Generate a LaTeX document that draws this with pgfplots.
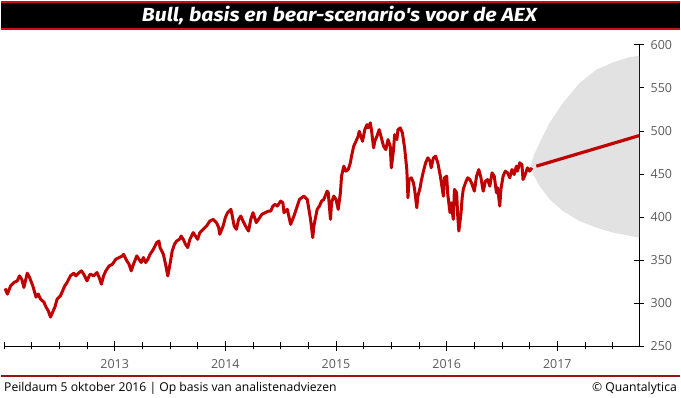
\documentclass[border=0pt]{standalone}
\usepackage{pgfplots}
\pgfplotsset{compat=1.18}
\usepackage{fontspec}
\setmainfont{Open Sans}
\newfontfamily\titlefont{Fira Sans}
\definecolor{aexred}{RGB}{192,0,0}
\definecolor{barred}{RGB}{200,16,16}
\definecolor{footred}{RGB}{150,20,20}
\definecolor{cone}{RGB}{226,226,226}
\definecolor{ticktext}{RGB}{90,90,90}
\begin{document}
\begin{tikzpicture}[x=1pt,y=1pt]
\path (0,0) rectangle (681,399);
% title bar
\fill[barred] (0,368.5) rectangle (681,397.5);
\fill[black] (0,370.8) rectangle (681,395.5);
\node[text=white,font=\titlefont\bfseries\itshape\fontsize{19}{22}\selectfont] at (339.5,383) {\scalebox{1.12}[1]{Bull, basis en bear-scenario's voor de AEX}};
% footer
\draw[footred,line width=2pt] (0,22) -- (681,22);
\node[anchor=base west,font=\fontsize{12.2}{14}\selectfont,inner sep=0pt] at (3,6) {Peildaum 5 oktober 2016 | Op basis van analistenadviezen};
\node[anchor=base east,font=\fontsize{12.2}{14}\selectfont,inner sep=0pt] at (678,6) {© Quantalytica};
\begin{axis}[
  at={(3pt,52pt)}, anchor=south west,
  scale only axis, width=637pt, height=302pt,
  xmin=2012, xmax=2017.739, ymin=250, ymax=600,
  axis x line=bottom, axis y line=right,
  axis line style={-, black, line width=0.8pt},
  xtick={2013,2014,2015,2016,2017},
  xticklabels={2013,2014,2015,2016,2017},
  minor xtick={2012,2012.25,2012.5,2012.75,2013.25,2013.5,2013.75,2014.25,2014.5,2014.75,2015.25,2015.5,2015.75,2016.25,2016.5,2016.75,2017.25,2017.5},
  ytick={250,300,...,600},
  tick align=center,
  major tick length=10pt, minor tick length=7pt,
  every tick/.style={black, line width=0.8pt},
  /pgf/number format/assume math mode=true,
  ticklabel style={font=\fontsize{12.5}{14}\selectfont, text=ticktext},
  xticklabel style={yshift=-5pt},
  yticklabel style={xshift=3pt},
  clip=false,
]
% scenario cone
\addplot[fill=cone, draw=none] coordinates {
 (2016.76,459) (2016.79,472.5) (2016.84,486.1) (2016.93,509.3) (2017.05,532.4) (2017.20,555.6) (2017.35,571.0) (2017.50,579.5) (2017.65,585.7) (2017.739,587.3)
 (2017.739,376.0) (2017.50,381.8) (2017.35,387.6) (2017.20,395.2) (2017.05,406.8) (2016.93,420.4) (2016.84,435.8) (2016.79,447.4) (2016.76,459)
} --cycle;
% base scenario
\addplot[aexred, line width=3.2pt] coordinates {(2016.81,459) (2017.739,494.5)};
% AEX history
\addplot[aexred, line width=3pt, line join=round] coordinates {
(2012.01,316.9)(2012.03,310.3)(2012.06,319.9)(2012.09,323.8)(2012.12,325.7)(2012.14,331.5)(2012.16,327.7)(2012.18,318.0)(2012.21,334.6)(2012.23,330.0)
(2012.26,320.0)(2012.29,306.8)(2012.31,310.3)(2012.33,304.5)(2012.36,301.0)(2012.38,295.2)(2012.40,290.9)(2012.42,283.6)(2012.44,289.4)(2012.46,295.2)
(2012.48,304.5)(2012.51,308.3)(2012.53,314.1)(2012.55,320.0)(2012.57,323.8)(2012.60,331.5)(2012.63,334.6)(2012.65,331.5)(2012.68,335.4)(2012.70,337.3)
(2012.72,333.5)(2012.75,325.7)(2012.77,331.5)(2012.78,333.5)(2012.81,331.5)(2012.84,335.4)(2012.86,329.6)(2012.88,321.9)(2012.90,331.5)(2012.92,337.3)
(2012.95,343.1)(2012.98,345.0)(2013.01,350.8)(2013.04,352.8)(2013.07,354.7)(2013.08,356.6)(2013.11,348.9)(2013.13,345.0)(2013.15,337.3)(2013.17,345.0)
(2013.20,354.7)(2013.22,350.8)(2013.24,347.0)(2013.26,352.8)(2013.28,347.0)(2013.30,350.8)(2013.32,356.6)(2013.35,362.4)(2013.38,370.2)(2013.40,372.0)
(2013.41,364.4)(2013.44,356.6)(2013.46,345.0)(2013.48,331.5)(2013.50,345.0)(2013.52,360.5)(2013.54,368.2)(2013.56,372.0)(2013.59,374.5)(2013.60,377.8)
(2013.62,374.0)(2013.64,368.2)(2013.66,364.4)(2013.68,374.0)(2013.71,381.8)(2013.73,377.8)(2013.75,374.0)(2013.77,381.8)(2013.80,385.6)(2013.83,389.4)
(2013.86,395.2)(2013.89,397.2)(2013.92,393.4)(2013.94,387.6)(2013.95,379.8)(2013.98,389.4)(2014.00,399.2)(2014.02,405.0)(2014.05,408.8)(2014.06,403.0)
(2014.08,389.4)(2014.10,385.6)(2014.12,397.2)(2014.14,401.0)(2014.16,395.2)(2014.19,387.6)(2014.21,383.6)(2014.23,397.2)(2014.25,405.0)(2014.28,393.4)
(2014.30,397.2)(2014.33,403.0)(2014.36,405.0)(2014.39,406.8)(2014.41,406.8)(2014.43,412.6)(2014.45,414.6)(2014.47,412.6)(2014.50,418.4)(2014.52,416.5)
(2014.53,405.0)(2014.56,408.8)(2014.57,403.0)(2014.59,391.4)(2014.62,401.0)(2014.64,408.8)(2014.67,420.4)(2014.69,422.3)(2014.71,424.2)(2014.74,420.4)
(2014.75,412.6)(2014.77,397.2)(2014.79,376.0)(2014.80,389.4)(2014.83,408.8)(2014.85,412.6)(2014.87,418.4)(2014.89,420.4)(2014.92,430.0)(2014.93,428.1)
(2014.95,397.2)(2014.96,416.5)(2014.98,424.2)(2015.00,420.4)(2015.02,408.8)(2015.04,428.1)(2015.05,447.4)(2015.07,459.0)(2015.09,453.2)(2015.11,455.1)
(2015.13,462.9)(2015.14,470.6)(2015.16,482.1)(2015.18,487.9)(2015.20,493.7)(2015.21,499.5)(2015.22,495.7)(2015.24,487.9)(2015.26,501.5)(2015.28,507.3)
(2015.29,503.5)(2015.31,509.3)(2015.32,501.5)(2015.34,480.3)(2015.35,487.9)(2015.37,493.7)(2015.39,501.5)(2015.41,491.9)(2015.43,482.1)(2015.45,478.3)
(2015.47,489.9)(2015.49,482.1)(2015.50,457.1)(2015.52,478.3)(2015.53,495.7)(2015.55,489.9)(2015.56,501.5)(2015.58,503.5)(2015.60,497.7)(2015.62,480.3)
(2015.64,455.1)(2015.65,422.3)(2015.66,443.5)(2015.68,445.5)(2015.70,439.7)(2015.71,432.0)(2015.73,410.7)(2015.74,424.2)(2015.76,433.9)(2015.77,441.6)
(2015.79,453.2)(2015.81,462.9)(2015.83,468.7)(2015.85,464.8)(2015.86,457.1)(2015.88,468.7)(2015.90,470.6)(2015.92,462.9)(2015.94,449.3)(2015.95,441.6)
(2015.97,424.2)(2015.98,445.5)(2016.00,447.4)(2016.01,426.2)(2016.03,405.0)(2016.04,416.5)(2016.06,397.2)(2016.07,432.0)(2016.09,428.1)(2016.10,401.0)
(2016.11,383.6)(2016.13,405.0)(2016.14,422.3)(2016.15,432.0)(2016.17,439.7)(2016.19,445.5)(2016.21,443.5)(2016.23,437.8)(2016.25,430.0)(2016.27,447.4)
(2016.29,455.1)(2016.31,445.5)(2016.33,430.0)(2016.35,441.6)(2016.37,443.5)(2016.39,435.8)(2016.41,451.3)(2016.43,447.4)(2016.45,428.1)(2016.46,433.9)
(2016.48,412.6)(2016.49,432.0)(2016.51,447.4)(2016.53,453.2)(2016.55,451.3)(2016.57,445.5)(2016.59,455.1)(2016.61,449.3)(2016.63,459.0)(2016.64,453.2)
(2016.66,462.9)(2016.68,460.9)(2016.69,443.5)(2016.71,449.3)(2016.73,457.1)(2016.75,453.2)(2016.77,457.1)
};
\end{axis}
\end{tikzpicture}
\end{document}
